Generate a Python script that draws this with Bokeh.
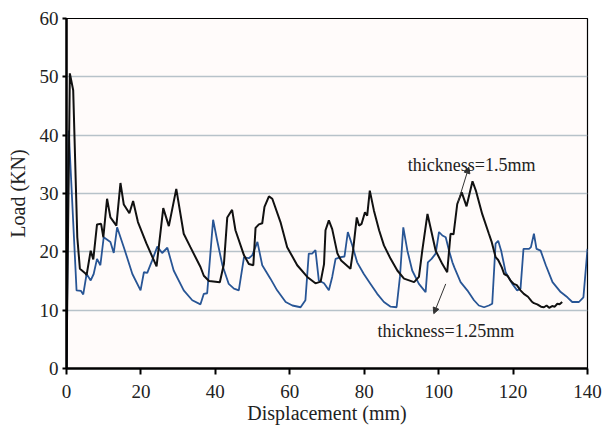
from bokeh.plotting import figure
from bokeh.models import FixedTicker, Arrow, NormalHead, Label
from bokeh.embed import file_html
from bokeh.resources import INLINE

# ---- data ----
x_ticks = [0, 20, 40, 60, 80, 100, 120, 140]
y_ticks = [0, 10, 20, 30, 40, 50, 60]

x_t150 = [0, 0.9, 1.8, 2.9, 3.6, 5.1, 5.4, 6.5, 7.2, 8.2, 9.3, 9.9, 10.9, 11.8,
          13.4, 14.5, 15.4, 16.9, 17.9, 19.2, 21.5, 24.2, 26.0, 27.5, 29.5, 31.5,
          33.3, 36.0, 36.9, 38.3, 41.2, 42.3, 43.2, 44.5, 45.4, 47.7, 49.0, 50.2,
          50.8, 51.7, 52.6, 53.2, 54.4, 55.3, 57.5, 59.3, 62.0, 64.7, 66.9, 68.3,
          69.2, 69.6, 70.5, 71.4, 72.8, 73.8, 76.3, 77.0, 78.0, 78.6, 79.3, 80.2,
          80.8, 81.5, 82.6, 84.0, 85.3, 87.1, 88.9, 90.7, 93.4, 94.7, 95.6, 97.0,
          97.8, 99.2, 101.0, 102.3, 103.2, 104.0, 105.0, 106.2, 107.5, 109.1,
          110.0, 111.7, 113.5, 114.2, 115.3, 116.0, 117.0, 117.6, 118.5, 119.4,
          120.2, 121.0, 122.0, 122.9, 124.0, 125.0, 125.6, 126.5, 127.5, 128.3,
          129.0, 129.7, 130.5, 131.2, 131.9, 132.5, 133.2]
y_t150 = [0, 50.6, 47.7, 22.5, 17.1, 16.3, 16.0, 20.2, 18.7, 24.7, 24.8, 22.5, 29.1, 25.9,
          24.5, 31.8, 28.1, 26.6, 28.7, 25.1, 21.4, 17.5, 27.5, 24.4, 30.8, 23.1,
          20.8, 17.4, 15.9, 15.0, 14.8, 17.9, 25.9, 27.2, 23.7, 19.4, 17.9, 17.7,
          24.1, 24.7, 24.9, 27.7, 29.5, 29.1, 25.1, 20.8, 17.7, 15.7, 14.6, 14.9,
          17.9, 23.7, 25.4, 23.9, 19.7, 18.5, 17.1, 20.2, 25.9, 24.5, 24.8, 26.8,
          26.2, 30.5, 27.1, 23.7, 21.1, 18.8, 16.8, 15.4, 14.8, 15.7, 20.2, 26.5,
          24.2, 20.2, 17.9, 16.5, 23.1, 23.0, 28.2, 30.2, 27.8, 32.1,
          30.5, 26.5, 23.1, 21.8, 19.1, 18.6, 17.3, 16.2, 15.9, 15.0,
          14.5, 14.3, 13.4, 12.8, 12.3, 11.5, 11.2, 11.0, 10.6, 10.5,
          10.8, 10.4, 10.7, 10.6, 11.1, 11.0, 11.4]

x_t125 = [0, 0.6, 2.7, 3.9, 4.5, 5.4, 6.5, 7.3, 8.2, 9.1, 10.0, 11.8, 12.7, 13.6,
          15.4, 17.7, 19.9, 20.8, 21.7, 23.0, 24.4, 25.7, 27.1, 28.8, 31.5, 33.8,
          36.0, 36.9, 37.8, 39.4, 40.5, 41.9, 43.6, 45.0, 46.3, 47.7, 49.0, 49.9,
          51.3, 52.6, 54.8, 56.6, 58.9, 60.7, 62.9, 64.2, 65.1, 66.0, 66.9, 67.8,
          69.2, 70.5, 71.4, 72.3, 73.7, 74.7, 75.6, 76.8, 78.1, 79.9, 81.7, 83.5,
          85.3, 87.1, 88.7, 89.6, 90.5, 91.6, 92.9, 94.7, 96.5, 97.1, 98.1, 99.2,
          100.1, 101.0, 101.9, 102.8, 103.7, 104.3, 105.9, 107.7, 109.5, 110.8,
          112.2, 113.5, 114.4, 115.3, 116.0, 116.8, 118.0, 119.8, 121.1, 122.0,
          122.8, 124.3, 124.8, 125.6, 126.3, 127.4, 128.8, 130.6, 132.8, 134.6,
          135.9, 137.7, 138.9, 140.0]
y_t125 = [0, 40.8, 13.4, 13.3, 12.7, 16.2, 15.1, 16.2, 18.8, 17.7, 22.5, 21.7, 19.8, 24.2,
          20.8, 16.2, 13.4, 16.5, 16.4, 18.5, 20.9, 19.8, 20.7, 16.8, 13.4, 11.7,
          11.0, 12.8, 12.9, 25.5, 21.9, 17.7, 14.5, 13.7, 13.4, 19.1, 18.9, 19.4,
          21.7, 17.7, 15.4, 13.4, 11.4, 10.8, 10.5, 11.7, 19.7, 19.7, 20.3, 15.1,
          14.6, 13.4, 15.7, 18.8, 19.1, 19.2, 23.4, 21.1, 18.2, 16.2, 14.5, 12.8,
          11.4, 10.6, 10.5, 15.7, 24.2, 20.2, 16.8, 14.5, 13.1, 18.2, 18.8, 19.7,
          23.4, 22.8, 22.5, 20.2, 18.2, 17.2, 14.8, 13.4, 11.7, 10.8,
          10.5, 10.8, 11.1, 21.4, 21.9, 20.2, 16.5, 14.5, 13.4, 13.7,
          20.5, 20.5, 20.8, 23.1, 20.5, 20.2, 17.7, 14.8, 13.1, 12.2,
          11.4, 11.4, 12.2, 20.5]

x_title = "Displacement (mm)"
y_title = "Load (KN)"
label_150 = "thickness=1.5mm"
label_125 = "thickness=1.25mm"

FONT = "Liberation Serif"

p = figure(width=604, height=427, x_range=(0, 140), y_range=(0, 60),
           output_backend="svg", toolbar_location=None,
           min_border_left=66, min_border_right=17, min_border_top=18,
           min_border_bottom=59,
           background_fill_color="#fffbfa", border_fill_color="white")

p.line(x_t125, y_t125, line_color="#285595", line_width=1.8)
p.line(x_t150, y_t150, line_color="#111111", line_width=2)

for ax in (p.xaxis[0], p.yaxis[0]):
    ax.axis_line_width = 2.5
    ax.axis_line_color = "black"
    ax.major_tick_line_color = "black"
    ax.major_tick_line_width = 2
    ax.major_tick_in = 0
    ax.minor_tick_line_color = None
    ax.major_label_text_font = FONT
    ax.major_label_text_font_size = "19px"
    ax.major_label_text_color = "#222222"
    ax.axis_label_text_font = FONT
    ax.axis_label_text_font_size = "20px"
    ax.axis_label_text_font_style = "normal"
    ax.axis_label_text_color = "#222222"

p.xaxis.ticker = FixedTicker(ticks=x_ticks)
p.yaxis.ticker = FixedTicker(ticks=y_ticks)
p.xaxis.major_tick_out = 6
p.yaxis.major_tick_out = 4
p.xaxis.major_label_standoff = 10
p.yaxis.major_label_standoff = 4
p.xaxis.axis_label = x_title
p.yaxis.axis_label = y_title
p.xaxis.axis_label_standoff = 1
p.yaxis.axis_label_standoff = 8

p.xgrid.visible = False
p.ygrid.ticker = FixedTicker(ticks=[10, 20, 30, 40, 50])
p.ygrid.grid_line_color = "#b7c2c9"
p.ygrid.grid_line_width = 1.3

p.outline_line_color = "black"
p.outline_line_width = 1.2
p.outline_line_alpha = 1

p.add_layout(Arrow(end=NormalHead(size=6, fill_color="#333333", line_color="#333333"),
                   x_start=105.2, y_start=28.5, x_end=108.1, y_end=34.5,
                   line_color="#333333", line_width=1))
p.add_layout(Arrow(end=NormalHead(size=6, fill_color="#333333", line_color="#333333"),
                   x_start=101.9, y_start=14.5, x_end=98.7, y_end=9.4,
                   line_color="#333333", line_width=1))

p.add_layout(Label(x=91.7, y=34.9, text=label_150, text_font=FONT,
                   text_font_size="18px", text_color="#222222",
                   text_baseline="alphabetic"))
p.add_layout(Label(x=83.6, y=6.5, text=label_125, text_font=FONT,
                   text_font_size="18px", text_color="#222222",
                   text_baseline="alphabetic"))

open("out.html", "w").write(file_html(p, INLINE))
